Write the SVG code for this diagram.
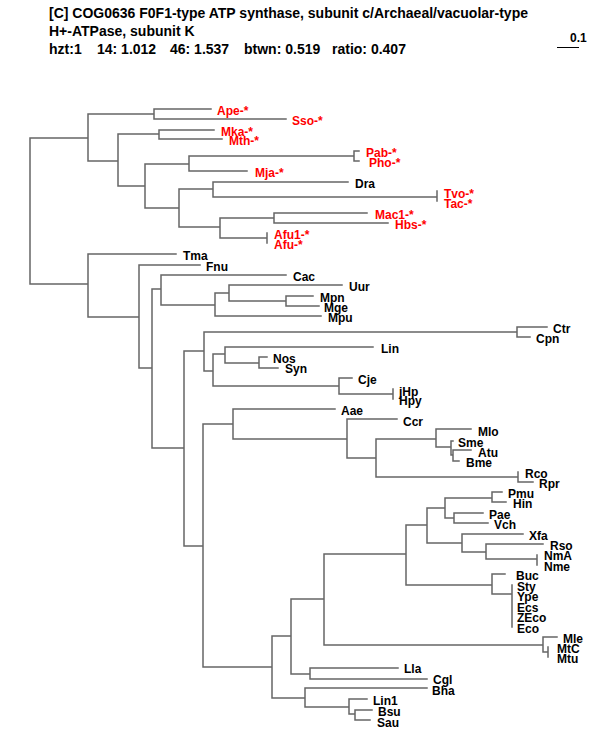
<svg xmlns="http://www.w3.org/2000/svg" width="600" height="750" viewBox="0 0 600 750">
<style>
text{font-family:"Liberation Sans",Arial,Helvetica,sans-serif;font-weight:bold;font-size:12px;fill:#000}
.h{font-size:14px}
.r{fill:#ff0000}
.br{fill:none;stroke:#666;stroke-width:1.5;stroke-linecap:square}
</style>
<rect width="600" height="750" fill="#fff"/>
<g id="header">
<text class="h" x="49" y="18">[C] COG0636 F0F1-type ATP synthase, subunit c/Archaeal/vacuolar-type</text>
<text class="h" x="49" y="36">H+-ATPase, subunit K</text>
<text class="h" y="54"><tspan x="49">hzt:1</tspan><tspan x="97">14: 1.012</tspan><tspan x="170">46: 1.537</tspan><tspan x="244">btwn: 0.519</tspan><tspan x="332">ratio: 0.407</tspan></text>
</g>
<g id="scale">
<text x="570" y="42">0.1</text>
<path d="M557,47.5H579" stroke="#000" stroke-width="1"/>
</g>
<g id="connectors" class="br">
<path class="br" d="M30,138V284M30,138H88M30,284H88
M88,114V161M88,114H154M88,161H118
M154,109V119M154,109H211M154,119H286
M118,134V186M118,134H159M118,186H145
M159,130V139M159,130H214M159,139H222
M145,164V208M145,164H189M145,208H179
M189,156V171M189,156H354M189,171H247
M354,151V161M354,151H359M354,161H359
M179,189V227M179,189H213M179,227H220
M213,182V197M213,182H348M213,197H437
M437,191V201
M220,218V238M220,218H274M220,238H267
M274,213V223M274,213H367M274,223H388
M267,233V243
M88,254V317M88,254H176M88,317H139
M139,265V368M139,265H200M139,368H152
M152,289V448M152,289H161M152,448H184
M161,275V305M161,275H286M161,305H215
M215,293V316M215,293H229M215,316H321
M229,285V301M229,285H342M229,301H286
M286,296V306M286,296H313M286,306H319
M184,351V546M184,351H204M184,546H203
M204,332V371M204,332H517M204,371H213
M517,327V337M517,327H547M517,337H530
M213,354V386M213,354H225M213,386H339
M225,347V363M225,347H373M225,363H259
M259,357V368M259,357H267M259,368H278
M339,378V394M339,378H352M339,394H393
M393,389V399
M203,424V667M203,424H233M203,667H272
M233,409V439M233,409H335M233,439H347
M347,419V458M347,419H397M347,458H376
M376,439V477M376,439H436M376,477H518
M436,429V447M436,429H471M436,447H451
M451,441V455M451,441H453M451,455H453
M453,450V461M453,450H471M453,461H459
M518,472V482M518,482H533
M272,636V698M272,636H291M272,698H305
M291,599V674M291,599H324M291,674H310
M324,554V645M324,554H406M324,645H543
M406,525V585M406,525H427M406,585H492
M427,508V543M427,508H445M427,543H462
M445,498V518M445,498H492M445,518H454
M492,492V502M492,492H502M492,502H506
M454,513V523M454,513H483M454,523H488
M462,534V552M462,534H523M462,552H486
M486,544V559M486,544H543M486,559H537
M537,555V565
M492,574V594M492,574H505M492,594H512
M512,585V627
M543,637V652M543,637H557M543,652H548
M548,647V657
M310,668V679M310,668H398M310,679H427
M305,688V707M305,688H427M305,707H349
M349,699V714M349,699H367M349,714H355
M355,710V720M355,710H372M355,720H370"/>
</g>
<g id="leaf-Ape"><text class="r" x="217" y="115">Ape-*</text></g>
<g id="leaf-Sso"><text class="r" x="292" y="125">Sso-*</text></g>
<g id="leaf-Mka"><text class="r" x="221" y="136">Mka-*</text></g>
<g id="leaf-Mth"><text class="r" x="229" y="145">Mth-*</text></g>
<g id="leaf-Pab"><text class="r" x="366" y="157">Pab-*</text></g>
<g id="leaf-Pho"><text class="r" x="369" y="167">Pho-*</text></g>
<g id="leaf-Mja"><text class="r" x="255" y="177">Mja-*</text></g>
<g id="leaf-Dra"><text x="355" y="188">Dra</text></g>
<g id="leaf-Tvo"><text class="r" x="444" y="198">Tvo-*</text></g>
<g id="leaf-Tac"><text class="r" x="444" y="208">Tac-*</text></g>
<g id="leaf-Mac1"><text class="r" x="375" y="219">Mac1-*</text></g>
<g id="leaf-Hbs"><text class="r" x="395" y="229">Hbs-*</text></g>
<g id="leaf-Afu1"><text class="r" x="274" y="239">Afu1-*</text></g>
<g id="leaf-Afu"><text class="r" x="274" y="249">Afu-*</text></g>
<g id="leaf-Tma"><text x="183" y="260">Tma</text></g>
<g id="leaf-Fnu"><text x="206" y="271">Fnu</text></g>
<g id="leaf-Cac"><text x="293" y="281">Cac</text></g>
<g id="leaf-Uur"><text x="349" y="291">Uur</text></g>
<g id="leaf-Mpn"><text x="320" y="302">Mpn</text></g>
<g id="leaf-Mge"><text x="324" y="312">Mge</text></g>
<g id="leaf-Mpu"><text x="328" y="322">Mpu</text></g>
<g id="leaf-Ctr"><text x="553" y="333">Ctr</text></g>
<g id="leaf-Cpn"><text x="536" y="343">Cpn</text></g>
<g id="leaf-Lin"><text x="381" y="353">Lin</text></g>
<g id="leaf-Nos"><text x="273" y="363">Nos</text></g>
<g id="leaf-Syn"><text x="285" y="373">Syn</text></g>
<g id="leaf-Cje"><text x="358" y="384">Cje</text></g>
<g id="leaf-jHp"><text x="399" y="396">jHp</text></g>
<g id="leaf-Hpy"><text x="399" y="405">Hpy</text></g>
<g id="leaf-Aae"><text x="341" y="415">Aae</text></g>
<g id="leaf-Ccr"><text x="403" y="426">Ccr</text></g>
<g id="leaf-Mlo"><text x="478" y="436">Mlo</text></g>
<g id="leaf-Sme"><text x="458" y="447">Sme</text></g>
<g id="leaf-Atu"><text x="478" y="457">Atu</text></g>
<g id="leaf-Bme"><text x="466" y="467">Bme</text></g>
<g id="leaf-Rco"><text x="525" y="478">Rco</text></g>
<g id="leaf-Rpr"><text x="539" y="488">Rpr</text></g>
<g id="leaf-Pmu"><text x="508" y="498">Pmu</text></g>
<g id="leaf-Hin"><text x="513" y="508">Hin</text></g>
<g id="leaf-Pae"><text x="489" y="519">Pae</text></g>
<g id="leaf-Vch"><text x="494" y="529">Vch</text></g>
<g id="leaf-Xfa"><text x="529" y="540">Xfa</text></g>
<g id="leaf-Rso"><text x="550" y="550">Rso</text></g>
<g id="leaf-NmA"><text x="544" y="560">NmA</text></g>
<g id="leaf-Nme"><text x="544" y="571">Nme</text></g>
<g id="leaf-Buc"><text x="516" y="580">Buc</text></g>
<g id="leaf-Sty"><text x="517" y="591">Sty</text></g>
<g id="leaf-Ype"><text x="517" y="601">Ype</text></g>
<g id="leaf-Ecs"><text x="517" y="612">Ecs</text></g>
<g id="leaf-ZEco"><text x="517" y="622">ZEco</text></g>
<g id="leaf-Eco"><text x="517" y="633">Eco</text></g>
<g id="leaf-Mle"><text x="563" y="643">Mle</text></g>
<g id="leaf-MtC"><text x="557" y="653">MtC</text></g>
<g id="leaf-Mtu"><text x="557" y="663">Mtu</text></g>
<g id="leaf-Lla"><text x="404" y="673">Lla</text></g>
<g id="leaf-Cgl"><text x="433" y="684">Cgl</text></g>
<g id="leaf-Bha"><text x="432" y="695">Bha</text></g>
<g id="leaf-Lin1"><text x="373" y="705">Lin1</text></g>
<g id="leaf-Bsu"><text x="378" y="716">Bsu</text></g>
<g id="leaf-Sau"><text x="377" y="727">Sau</text></g>
</svg>
